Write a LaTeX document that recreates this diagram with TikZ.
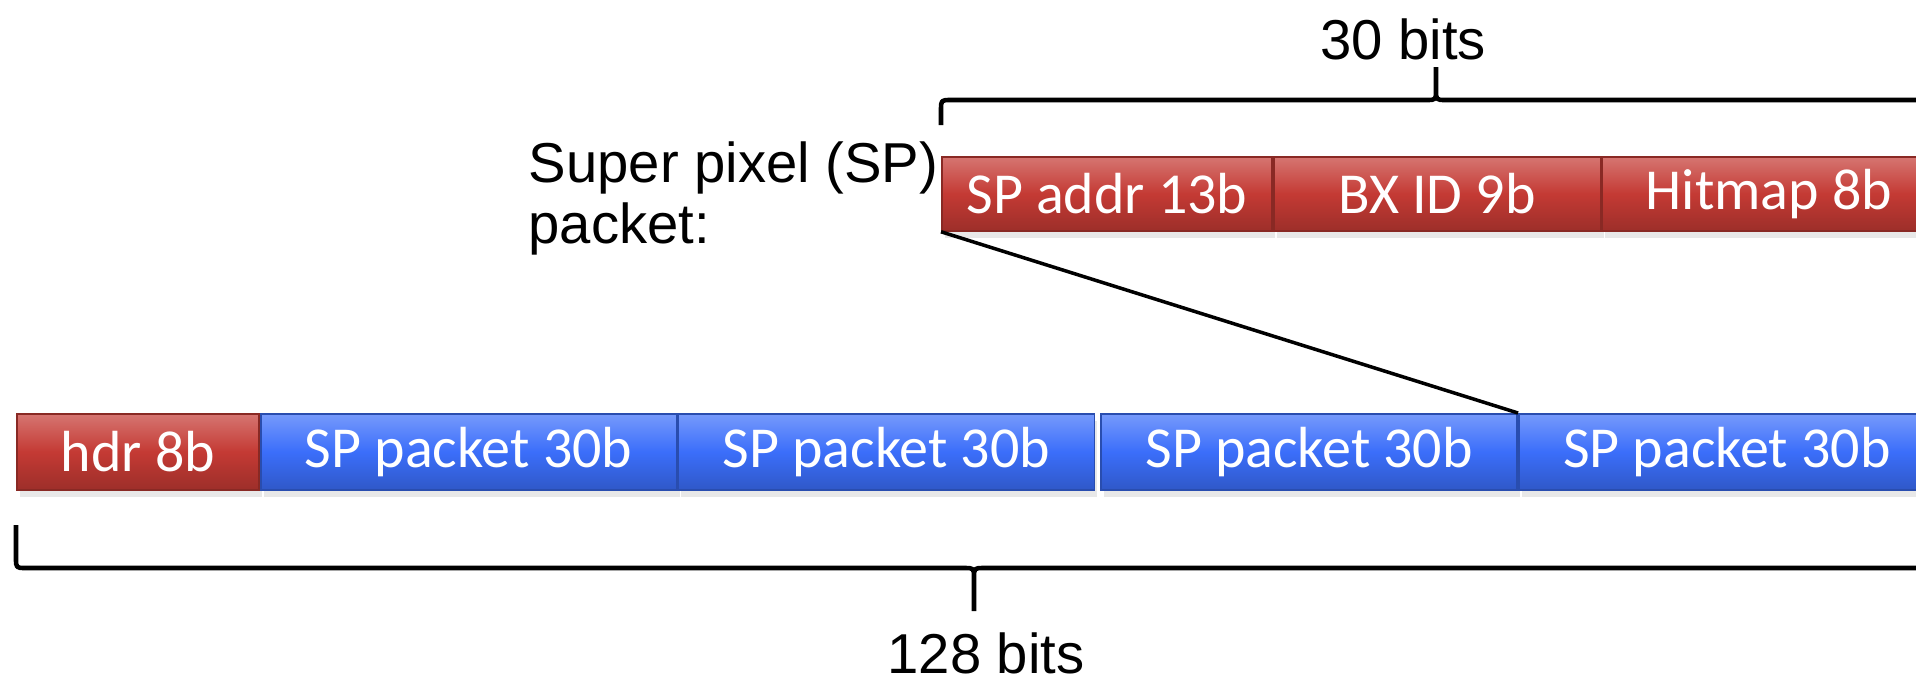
\documentclass[tikz,border=0pt]{standalone}
\usepackage{fontspec}
\setmainfont{Liberation Sans}
\newfontfamily\fieldfont{Carlito}
\usetikzlibrary{positioning,shadows}
\definecolor{fieldred}{RGB}{196,58,52}
\definecolor{fieldblue}{RGB}{59,110,250}
\tikzset{
  field/.style={minimum height=7.6mm, inner sep=0pt, text=white, line width=0.5pt,
    font=\fieldfont\fontsize{16.5}{18}\selectfont,
    drop shadow={shadow xshift=0.3mm, shadow yshift=-0.7mm, opacity=0.18}},
  redfield/.style={field, draw=fieldred!70!black, top color=fieldred!70!white,
    bottom color=fieldred!80!black, middle color=fieldred},
  bluefield/.style={field, draw=fieldblue!70!black, top color=fieldblue!70!white,
    bottom color=fieldblue!80!black, middle color=fieldblue, minimum width=41.6mm},
  bits/.style={font=\fontsize{16}{17.5}\selectfont},
  brace/.style={line width=1.3pt, line join=round}
}
\begin{document}
\begin{tikzpicture}[x=0.1mm,y=-0.1mm]
  \useasboundingbox[clip] (0,0) rectangle (1916,683);
  % SP packet fields
  \node[redfield, minimum width=33mm, minimum height=7.4mm, anchor=north west] (addr) at (941,156) {SP addr 13b};
  \node[redfield, minimum width=32.7mm, minimum height=7.4mm, right=0pt of addr] (bxid) {BX ID 9b};
  \node[redfield, minimum width=33.3mm, minimum height=7.4mm, right=0pt of bxid] (hitmap) {Hitmap 8b};
  % 128 bit frame
  \node[redfield, minimum width=24.2mm, anchor=north west] (hdr) at (16,413) {hdr 8b};
  \node[bluefield, right=0pt of hdr] (p1) {SP packet 30b};
  \node[bluefield, right=0pt of p1] (p2) {SP packet 30b};
  \node[bluefield, right=0.5mm of p2] (p3) {SP packet 30b};
  \node[bluefield, right=0pt of p3] (p4) {SP packet 30b};
  \draw[line width=1pt] (addr.south west) -- (p4.north west);
  % labels and braces
  \node[bits, align=left, anchor=north west, inner sep=0pt] (splabel) at (528,141) {Super pixel (SP)\\packet:};
  \node[bits] (topbits) at (1403,39) {30 bits};
  \node[bits] (allbits) at (986,653) {128 bits};
  \draw[brace] (941,125) -- (941,110) .. controls (941,100) .. (951,100) -- (1426,100)
    .. controls (1436,100) .. (1436,90) -- (1436,67)
    (1436,90) .. controls (1436,100) .. (1446,100) -- (1921,100) .. controls (1931,100) .. (1931,110) -- (1931,125);
  \draw[brace] (16,525) -- (16,558) .. controls (16,568) .. (26,568) -- (964,568)
    .. controls (974,568) .. (974,578) -- (974,611)
    (974,578) .. controls (974,568) .. (984,568) -- (1922,568) .. controls (1932,568) .. (1932,558) -- (1932,525);
\end{tikzpicture}
\end{document}
